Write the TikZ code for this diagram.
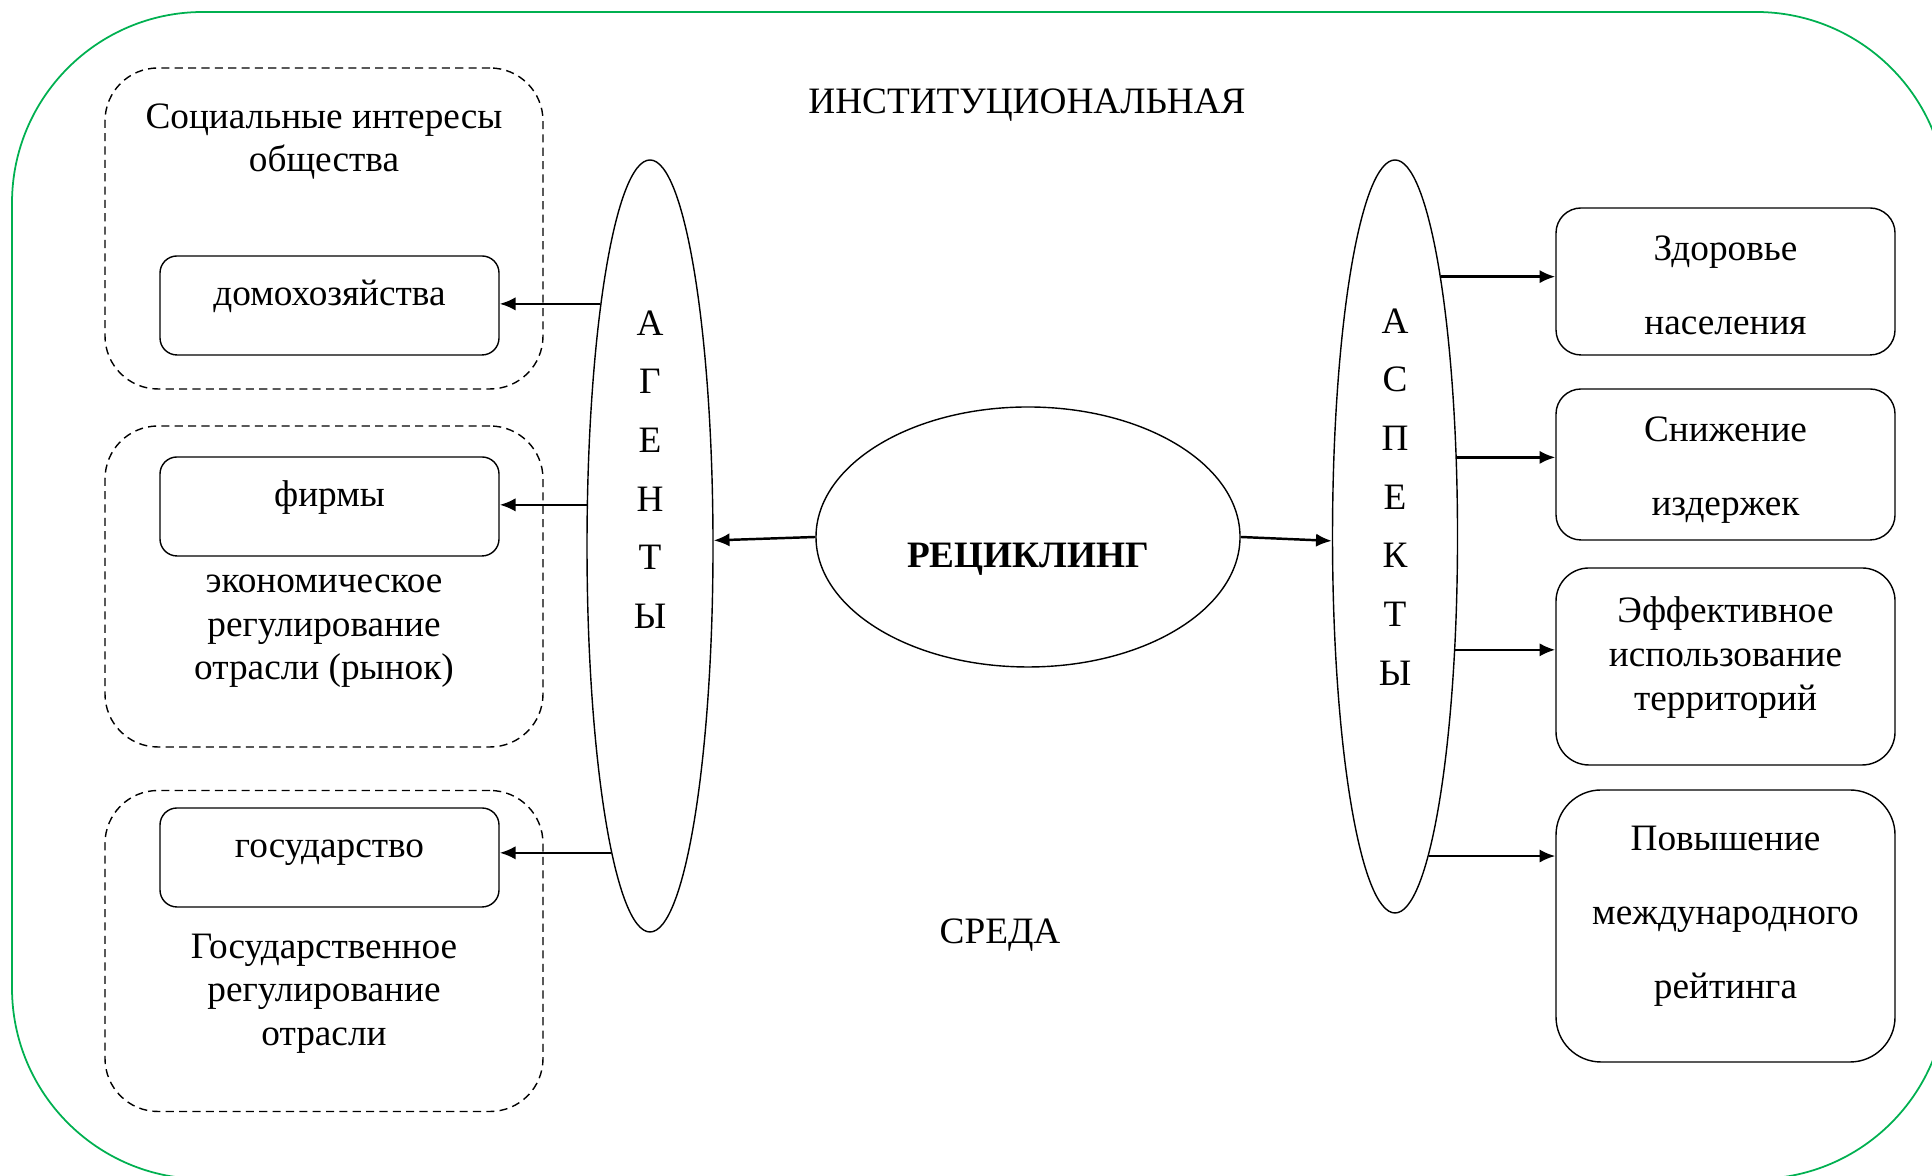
\documentclass[tikz,border=0pt]{standalone}
\usepackage{fontspec}
\setmainfont{Liberation Serif}
\usetikzlibrary{shapes.geometric,arrows.meta,calc}
\definecolor{envgreen}{RGB}{0,176,80}
\begin{document}
\begin{tikzpicture}
\fontsize{10.6}{12.4}\selectfont
\useasboundingbox (0,0) rectangle (19.32,11.76);
% environment frame
\draw [envgreen,line width=0.5pt,rounded corners=1.91cm] (0.12,11.64) rectangle (19.47,-0.03);
\node (inst) at (10.27,10.71) {ИНСТИТУЦИОНАЛЬНАЯ};
\node (sreda) at (10.00,2.41) {СРЕДА};
\begin{scope}[->,line width=0.7pt,>={Latex[length=4.5pt,width=3.8pt]},
              group/.style={rectangle,draw,thin,dash pattern=on 2.3pt off 1.5pt,rounded corners=0.53cm,
                            minimum width=4.38cm,minimum height=3.21cm},
              agent/.style={rectangle,draw,thin,rounded corners=0.17cm,minimum width=3.39cm,minimum height=0.99cm,
                            text height=7pt,text depth=7pt},
              aspect/.style={rectangle,draw,thin,minimum width=3.39cm},
              oval/.style={ellipse,draw,thin,inner sep=0pt},
              txt/.style={align=center},
              letters/.style={align=center,font=\fontsize{10.6}{16.7}\selectfont},
              wide/.style={align=center,font=\fontsize{10.6}{21.1}\selectfont}]
    \node [group] (g1) at (3.24,9.475) {};
    \node [group] (g2) at (3.24,5.895) {};
    \node [group] (g3) at (3.24,2.25) {};
    \node [txt] (t1) at (3.24,10.345) {Социальные интересы\\общества};
    \node [agent] (dom) at (3.295,8.705) {домохозяйства};
    \node [agent] (fir) at (3.295,6.695) {фирмы};
    \node [txt] (t2) at (3.24,5.445) {экономическое\\регулирование\\отрасли (рынок)};
    \node [agent] (gos) at (3.295,3.185) {государство};
    \node [txt] (t3) at (3.24,1.825) {Государственное\\регулирование\\отрасли};
    \node [oval,minimum width=1.26cm,minimum height=7.72cm] (ag) at (6.50,6.30) {};
    \node [letters] (agt) at (6.50,7.065) {А\\Г\\Е\\Н\\Т\\Ы};
    \node [oval,minimum width=4.24cm,minimum height=2.60cm] (rec) at (10.28,6.39) {};
    \node [txt] (rect) at (10.28,6.17) {\textbf{РЕЦИКЛИНГ}};
    \node [oval,minimum width=1.25cm,minimum height=7.53cm] (asp) at (13.95,6.395) {};
    \node [letters] (aspt) at (13.95,6.79) {А\\С\\П\\Е\\К\\Т\\Ы};
    \node [aspect,rounded corners=0.25cm,minimum height=1.47cm] (zd) at (17.255,8.945) {};
    \node [wide] (zdt) at (17.255,8.91) {Здоровье\\населения};
    \node [aspect,rounded corners=0.25cm,minimum height=1.51cm] (sn) at (17.255,7.115) {};
    \node [wide] (snt) at (17.255,7.055) {Снижение\\издержек};
    \node [aspect,rounded corners=0.33cm,minimum height=1.97cm] (ef) at (17.255,5.095) {};
    \node [txt] (eft) at (17.255,5.185) {Эффективное\\использование\\территорий};
    \node [aspect,rounded corners=0.45cm,minimum height=2.72cm] (pov) at (17.255,2.50) {};
    \node [wide] (povt) at (17.255,2.60) {Повышение\\международного\\рейтинга};
    \coordinate (a1) at ($(ag.101)!0.6!(ag.102)$);
    \coordinate (a3) at ($(ag.262)!0.8!(ag.263)$);
    \path (rec.west) edge (ag.5);
    \path (rec.east) edge (asp.184);
    \path (a1) edge (a1 -| dom.east);
    \path (ag.147) edge (ag.147 -| fir.east);
    \path (a3) edge (a3 -| gos.east);
    \path (asp.80) edge (asp.80 -| zd.west);
    \path (asp.52) edge (asp.52 -| sn.west);
    \path (asp.-62) edge (asp.-62 -| ef.west);
    \path (asp.-84) edge (asp.-84 -| pov.west);
\end{scope}
\end{tikzpicture}
\end{document}
